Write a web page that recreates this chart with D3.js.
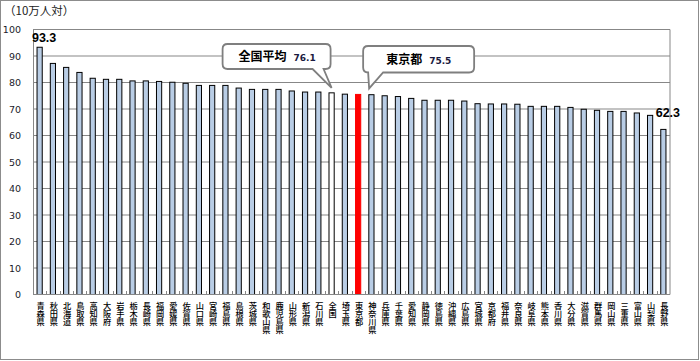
<!DOCTYPE html>
<html><head><meta charset="utf-8">
<script src="https://cdn.jsdelivr.net/npm/d3@7"></script>
<style>body{margin:0;background:#fff}svg{display:block}</style>
</head><body>
<svg id="c" width="700" height="361"></svg>
<script>
const categories = ["青森県","秋田県","北海道","鳥取県","高知県","大阪府","岩手県","栃木県","長崎県","福岡県","愛媛県","佐賀県","山口県","宮崎県","福島県","島根県","茨城県","和歌山県","鹿児島県","山形県","新潟県","石川県","全国","埼玉県","東京都","神奈川県","兵庫県","千葉県","愛知県","静岡県","徳島県","沖縄県","広島県","宮城県","京都府","福井県","奈良県","岐阜県","熊本県","香川県","大分県","滋賀県","群馬県","岡山県","三重県","富山県","山梨県","長野県"];
const values = [93.3,87.2,85.7,83.8,81.6,81.2,81.2,80.6,80.6,80.4,80.1,79.7,78.9,78.9,78.9,77.9,77.4,77.4,77.4,76.8,76.4,76.4,76.1,75.6,75.5,75.4,75.0,74.7,74.0,73.3,73.3,73.3,73.0,72.0,71.9,71.9,71.8,71.0,71.0,71.0,70.6,69.9,69.5,69.1,69.1,68.5,67.6,62.3];
const yTicks = [0,10,20,30,40,50,60,70,80,90,100];
const yTitle = "（10万人対）";
const valueLabels = [{name:"青森県", text:"93.3"},{name:"長野県", text:"62.3"}];
const callouts = [{name:"全国", title:"全国平均", text:"76.1"},{name:"東京都", title:"東京都", text:"75.5"}];

const svg = d3.select("#c");
const L = 33, R = 670, T = 29.5, B = 294.5;
const x = d3.scaleBand().domain(categories).range([L, R]);
const y = d3.scaleLinear().domain([0, 100]).range([B, T]);

// outer frame
svg.append("rect").attr("x",0.5).attr("y",0.5).attr("width",698).attr("height",359)
  .attr("fill","#fff").attr("stroke","#8c8c8c");

// gridlines
svg.append("g").selectAll("line").data(yTicks.filter(d=>d>0)).join("line")
  .attr("x1", L).attr("x2", R).attr("y1", d=>y(d)).attr("y2", d=>y(d))
  .attr("stroke","#878787").attr("stroke-width",1);
// right border
svg.append("line").attr("x1",R).attr("x2",R).attr("y1",T).attr("y2",B).attr("stroke","#878787");

// y axis
const ya = svg.append("g").attr("transform",`translate(${L},0)`)
  .call(d3.axisLeft(y).tickValues(yTicks).tickSize(0).tickPadding(12));
ya.select(".domain").attr("stroke","#878787");
ya.selectAll("text").attr("font-family","DejaVu Sans, Verdana, sans-serif").attr("font-size","9.5px").attr("fill","#1a1a2a");

// y title
svg.append("text").attr("x",4).attr("y",15).text(yTitle)
  .attr("font-family","Noto Sans CJK JP, sans-serif").attr("font-size","11.5px").attr("fill","#222");

// bars
const bw = 5.2;
svg.append("g").selectAll("rect").data(categories).join("rect")
  .attr("x", d => x(d) + x.bandwidth()/2 - bw/2)
  .attr("width", bw)
  .attr("y", (d,i) => y(values[i]))
  .attr("height", (d,i) => y(0) - y(values[i]))
  .attr("fill", d => d==="東京都" ? "#ff0000" : d==="全国" ? "#ffffff" : "#b9cde5")
  .attr("stroke", d => d==="東京都" ? "#ff0000" : "#000")
  .attr("stroke-width", 1);

// x axis
svg.append("line").attr("x1",L).attr("x2",R).attr("y1",B).attr("y2",B).attr("stroke","#878787");
svg.append("g").selectAll("line").data(categories.slice(1)).join("line")
  .attr("x1", d=>Math.round(x(d))+0.5).attr("x2", d=>Math.round(x(d))+0.5)
  .attr("y1", B).attr("y2", B-3.5).attr("stroke","#878787");

// x labels (one character per line)
const xl = svg.append("g").selectAll("text").data(categories).join("text")
  .attr("font-family","Noto Sans CJK JP, sans-serif").attr("font-size","8.2px")
  .attr("font-weight","500").attr("fill","#000")
  .attr("text-anchor","middle");
xl.each(function(d){
  const t = d3.select(this);
  const cx = x(d) + x.bandwidth()/2 + 1;
  Array.from(d).forEach((ch,k)=>{
    t.append("tspan").attr("x",cx).attr("y", B + 14 + k*8.2).text(ch);
  });
});

// value labels
valueLabels.forEach((v,k)=>{
  const i = categories.indexOf(v.name);
  const cx = x(v.name) + x.bandwidth()/2 + 4.5;
  svg.append("text").attr("x",cx).attr("y", y(values[i]) - (k===0 ? 5.5 : 12.5))
    .attr("text-anchor","middle").attr("font-family","Liberation Sans, Arial, sans-serif")
    .attr("font-weight","bold").attr("font-size","12.5px").attr("fill","#000").text(v.text);
});

// callouts
function calloutPath(x0,y0,x1,y1,r,t1,t2,tx,ty){
  return `M${x0+r},${y0} H${x1-r} Q${x1},${y0} ${x1},${y0+r} V${y1-r} Q${x1},${y1} ${x1-r},${y1}`+
    ` H${t2} L${tx},${ty} L${t1},${y1} H${x0+r} Q${x0},${y1} ${x0},${y1-r} V${y0+r} Q${x0},${y0} ${x0+r},${y0} Z`;
}
const cfg = [
  {dx0:-109, dx1:-1, y0:44, y1:69, t1:-19, t2:-8, tipdx:0, tipdy:-5, tx:-93, vx:-38},
  {dx0:5, dx1:116, y0:46, y1:72.5, t1:10, t2:25, tipdx:11, tipdy:-6, tx:28, vx:71}
];
callouts.forEach((c,k)=>{
  const i = categories.indexOf(c.name);
  const cx = x(c.name) + x.bandwidth()/2;
  const g = cfg[k];
  const x0 = cx + g.dx0, x1 = cx + g.dx1;
  svg.append("path").attr("d", calloutPath(x0,g.y0,x1,g.y1,5,cx+g.t1,cx+g.t2,cx+g.tipdx,y(values[i])+g.tipdy))
    .attr("fill","#fff").attr("stroke","#7f7f7f").attr("stroke-width",1.8);
  const ym = (g.y0+g.y1)/2 + 4.5;
  svg.append("text").attr("x", cx+g.tx).attr("y", ym).text(c.title)
    .attr("font-family","Noto Sans CJK JP, sans-serif").attr("font-weight","bold").attr("font-size","12px").attr("fill","#000");
  svg.append("text").attr("x", cx+g.vx).attr("y", ym).text(c.text)
    .attr("font-family","DejaVu Sans, sans-serif").attr("font-weight","bold").attr("font-size","9px").attr("fill","#1a1a40");
});
</script>
</body></html>
